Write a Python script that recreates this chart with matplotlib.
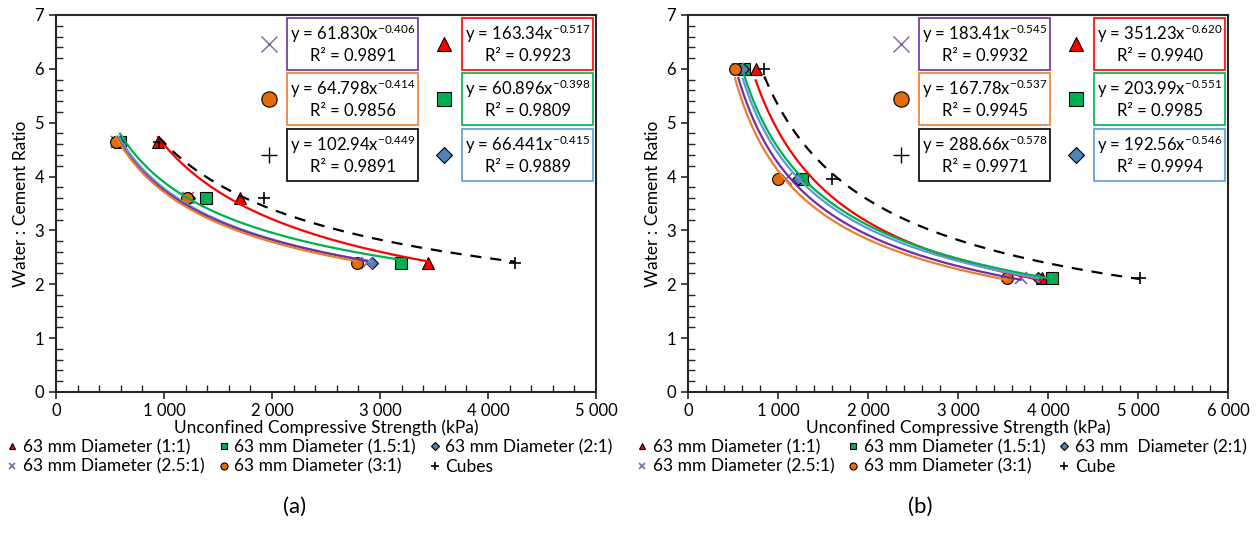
import matplotlib.pyplot as plt
import numpy as np
from matplotlib.patches import Rectangle
from matplotlib.ticker import MultipleLocator, FuncFormatter

plt.rcParams['font.family'] = ['Lato', 'DejaVu Sans']
plt.rcParams['mathtext.fontset'] = 'custom'
plt.rcParams['mathtext.rm'] = 'Lato'
plt.rcParams['mathtext.default'] = 'regular'

# Water : cement ratios of the mixes
wc_a = [4.65, 3.60, 2.40]
wc_b = [6.00, 3.95, 2.12]

# UCS (kPa) per specimen type, panel (a)
ucs_a_11 = [944, 1704, 3444]
ucs_a_151 = [593, 1389, 3194]
ucs_a_21 = [578, 1236, 2923]
ucs_a_251 = [566, 1222, 2880]
ucs_a_31 = [556, 1213, 2784]
ucs_a_cube = [950, 1926, 4250]

# UCS (kPa) per specimen type, panel (b)
ucs_b_11 = [752, 1287, 3930]
ucs_b_151 = [622, 1270, 4045]
ucs_b_21 = [608, 1222, 3890]
ucs_b_251 = [560, 1090, 3697]
ucs_b_31 = [522, 1000, 3541]
ucs_b_cube = [848, 1596, 5022]

# Power trendlines y = a * x^b, with R^2
fit_a_11 = [163.34, -0.517, 0.9923]
fit_a_151 = [60.896, -0.398, 0.9809]
fit_a_21 = [66.441, -0.415, 0.9889]
fit_a_251 = [61.830, -0.406, 0.9891]
fit_a_31 = [64.798, -0.414, 0.9856]
fit_a_cube = [102.94, -0.449, 0.9891]

fit_b_11 = [351.23, -0.620, 0.9940]
fit_b_151 = [203.99, -0.551, 0.9985]
fit_b_21 = [192.56, -0.546, 0.9994]
fit_b_251 = [183.41, -0.545, 0.9932]
fit_b_31 = [167.78, -0.537, 0.9945]
fit_b_cube = [288.66, -0.578, 0.9971]

labels_a = ['63 mm Diameter (1:1)', '63 mm Diameter (1.5:1)', '63 mm Diameter (2:1)',
            '63 mm Diameter (2.5:1)', '63 mm Diameter (3:1)', 'Cubes']
labels_b = ['63 mm Diameter (1:1)', '63 mm Diameter (1.5:1)', '63 mm  Diameter (2:1)',
            '63 mm Diameter (2.5:1)', '63 mm Diameter (3:1)', 'Cube']

# marker, face, edge, markersize, trendline colour, box colour
styles = [
    ('^', '#FF0000', '#000000', 8, '#FF0000', '#FF0000'),
    ('s', '#00B050', '#000000', 8, '#00B050', '#00B050'),
    ('D', '#4F81BD', '#000000', 6.5, '#5B9BD5', '#5B9BD5'),
    ('x', '#8064A2', '#8064A2', 8, '#7030A0', '#7030A0'),
    ('o', '#E36C09', '#000000', 8.5, '#ED7D31', '#ED7D31'),
    ('+', '#000000', '#000000', 9, '#000000', '#000000'),
]

# equation boxes: (series index, box left, box bottom) in axes fraction
box_w, box_h = 0.243, 0.138
box_layout = [
    (3, 0.428, 0.854), (4, 0.428, 0.708), (5, 0.428, 0.560),
    (0, 0.752, 0.854), (1, 0.752, 0.708), (2, 0.752, 0.560),
]


def thousands(v, pos):
    return f'{int(v):,}'.replace(',', ' ')


def draw_panel(ax, wc, ucs_list, fits, labels, xmax):
    for i, (ucs, fit) in enumerate(zip(ucs_list, fits)):
        m, fc, ec, ms, lc, bc = styles[i]
        if m in ('x', '+'):
            ax.plot(ucs, wc, ls='none', marker=m, color=fc, ms=ms, mew=1.2,
                    zorder=3, label=labels[i])
        else:
            ax.plot(ucs, wc, ls='none', marker=m, mfc=fc, mec=ec, ms=ms, mew=0.8,
                    zorder=3, label=labels[i])
        xs = np.linspace(min(ucs), max(ucs), 200)
        ys = fit[0] * xs ** fit[1]
        if i == 5:
            ax.plot(xs, ys, color=lc, lw=1.6, ls=(0, (5, 4)), zorder=4)
        else:
            ax.plot(xs, ys, color=lc, lw=1.6, zorder=4)

    for i, bx, by in box_layout:
        m, fc, ec, ms, lc, bc = styles[i]
        a, b, r2 = fits[i]
        ax.add_patch(Rectangle((bx, by), box_w, box_h, transform=ax.transAxes,
                               fill=True, facecolor='white', edgecolor=bc, lw=1.2,
                               zorder=5))
        ax.text(bx + box_w / 2, by + box_h * 0.70,
                f'y = {a:.{5 - len(str(int(a)))}f}x$^{{{b:.3f}}}$',
                transform=ax.transAxes, ha='center', va='center', fontsize=12, zorder=6)
        ax.text(bx + box_w / 2, by + box_h * 0.27, f'R² = {r2:.4f}',
                transform=ax.transAxes, ha='center', va='center', fontsize=12, zorder=6)
        mx = bx - 0.034
        my = by + box_h / 2
        if m in ('x', '+'):
            ax.plot([mx], [my], transform=ax.transAxes, marker=m, color=fc, ms=11,
                    mew=1.0, ls='none', zorder=6)
        else:
            ax.plot([mx], [my], transform=ax.transAxes, marker=m, mfc=fc, mec=ec,
                    ms=ms * 1.3, mew=0.8, ls='none', zorder=6)

    ax.set_xlim(0, xmax)
    ax.set_ylim(0, 7)
    ax.xaxis.set_major_locator(MultipleLocator(1000))
    ax.xaxis.set_minor_locator(MultipleLocator(200))
    ax.yaxis.set_major_locator(MultipleLocator(1))
    ax.yaxis.set_minor_locator(MultipleLocator(0.2))
    ax.xaxis.set_major_formatter(FuncFormatter(thousands))
    ax.tick_params(which='major', direction='out', length=5, width=1.2,
                   labelsize=12, color='#262626', labelcolor='#000000')
    ax.tick_params(axis='x', which='major', pad=3)
    ax.tick_params(which='minor', direction='in', length=5, width=1.0, color='#262626')
    for s in ax.spines.values():
        s.set_linewidth(1.5)
        s.set_color('#262626')
    ax.set_xlabel('Unconfined Compressive Strength (kPa)', fontsize=12.5, labelpad=0)
    ax.set_ylabel('Water : Cement Ratio', fontsize=12.5, labelpad=4)

    handles, labs = ax.get_legend_handles_labels()
    order = [0, 3, 1, 4, 2, 5]
    ax.legend([handles[k] for k in order], [labs[k] for k in order],
              loc='upper center', bbox_to_anchor=(0.47, -0.125), ncol=3,
              frameon=False, fontsize=12.5, markerscale=0.6, handlelength=0.6,
              handletextpad=0.3, columnspacing=0.8, labelspacing=0.2,
              borderpad=0, borderaxespad=0)


fig = plt.figure(figsize=(12.58, 5.42), dpi=100)
ax_a = fig.add_axes([0.0445, 0.2768, 0.4293, 0.6956])
ax_b = fig.add_axes([0.5469, 0.2768, 0.4293, 0.6956])

draw_panel(ax_a, wc_a,
           [ucs_a_11, ucs_a_151, ucs_a_21, ucs_a_251, ucs_a_31, ucs_a_cube],
           [fit_a_11, fit_a_151, fit_a_21, fit_a_251, fit_a_31, fit_a_cube],
           labels_a, 5000)
draw_panel(ax_b, wc_b,
           [ucs_b_11, ucs_b_151, ucs_b_21, ucs_b_251, ucs_b_31, ucs_b_cube],
           [fit_b_11, fit_b_151, fit_b_21, fit_b_251, fit_b_31, fit_b_cube],
           labels_b, 6000)

fig.text(0.2345, 0.065, '(a)', ha='center', va='center', fontsize=16)
fig.text(0.7313, 0.065, '(b)', ha='center', va='center', fontsize=16)

fig.savefig('out.png', dpi=100)
